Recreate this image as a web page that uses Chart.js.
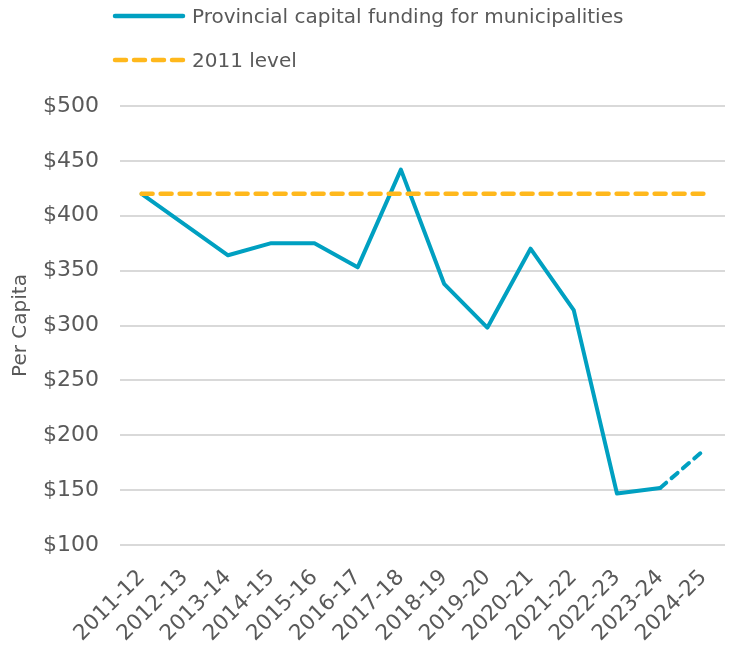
<!DOCTYPE html>
<html>
<head>
<meta charset="utf-8">
<script src="https://cdn.jsdelivr.net/npm/chart.js@4"></script>
<style>
    html, body { margin: 0; padding: 0; background: #fff; }
    #wrap { position: relative; width: 731px; height: 645px; }
    #legend { position: absolute; left: 112px; top: 0; font-family: "DejaVu Sans", sans-serif; font-size: 20px; color: #595959; }
    .item { position: absolute; left: 0; height: 30px; display: flex; align-items: center; white-space: nowrap; }
    .item svg { margin-right: 6px; }
</style>
</head>
<body>
<div id="wrap">
    <canvas id="grafico" width="731" height="645"></canvas>
    <div id="legend"></div>
</div>
<script>
const years = ['2011-12', '2012-13', '2013-14', '2014-15', '2015-16', '2016-17', '2017-18',
    '2018-19', '2019-20', '2020-21', '2021-22', '2022-23', '2023-24', '2024-25']
const fundingPerCapita = [420, 392, 364, 375, 375, 353, 442, 338, 298, 370, 314, 147, 152, 186]
const level2011 = [420, 420, 420, 420, 420, 420, 420, 420, 420, 420, 420, 420, 420, 420]
const seriesNames = ['Provincial capital funding for municipalities', '2011 level']
const yTicks = { min: 100, max: 500, step: 50 }

const azul = '#00a0c1'
const naranja = '#ffb81c'
const gris = '#595959'

// leyenda en html, dos filas como en el original
const legendDiv = document.getElementById('legend')
const muestras = [
    { texto: seriesNames[0], color: azul, dash: '' , top: 1 },
    { texto: seriesNames[1], color: naranja, dash: '11 8', top: 45 }
]
muestras.forEach(m => {
    const div = document.createElement('div')
    div.className = 'item'
    div.style.top = m.top + 'px'
    div.innerHTML = `<svg width="74" height="10"><line x1="3" y1="5" x2="71" y2="5" stroke="${m.color}" stroke-width="4.5" stroke-linecap="round" stroke-dasharray="${m.dash}"/></svg><span>${m.texto}</span>`
    legendDiv.appendChild(div)
})

Chart.defaults.font.family = '"DejaVu Sans", sans-serif'
Chart.defaults.color = gris

new Chart(document.getElementById('grafico'), {
    type: 'line',
    data: {
        labels: years,
        datasets: [{
            label: seriesNames[0],
            data: fundingPerCapita,
            borderColor: azul,
            borderWidth: 4,
            borderJoinStyle: 'round',
            borderCapStyle: 'round',
            pointRadius: 0,
            tension: 0,
            segment: {
                borderDash: ctx => ctx.p0DataIndex === 12 ? [8, 7] : undefined
            },
            order: 1
        }, {
            label: seriesNames[1],
            data: level2011,
            borderColor: naranja,
            borderWidth: 4.5,
            borderDash: [11, 8],
            borderCapStyle: 'round',
            pointRadius: 0,
            order: 0
        }]
    },
    options: {
        responsive: false,
        animation: false,
        layout: { padding: { top: 106, right: 6, left: 0, bottom: 0 } },
        plugins: {
            legend: { display: false },
            tooltip: { enabled: false }
        },
        scales: {
            x: {
                offset: true,
                grid: { display: false },
                border: { display: false },
                ticks: {
                    autoSkip: false,
                    minRotation: 45,
                    maxRotation: 45,
                    font: { size: 21.5 },
                    color: gris,
                    padding: 12
                },
                afterFit: scale => {
                    scale.height = 100
                    scale.paddingRight = 0
                }
            },
            y: {
                min: yTicks.min,
                max: yTicks.max,
                grid: { color: '#d9d9d9', lineWidth: 2, drawTicks: false },
                border: { display: false },
                ticks: {
                    stepSize: yTicks.step,
                    font: { size: 22 },
                    color: gris,
                    padding: 21,
                    callback: v => '$' + v
                },
                title: {
                    display: true,
                    text: 'Per Capita',
                    font: { size: 20 },
                    color: gris,
                    padding: { top: 9, bottom: 0 }
                },
                afterFit: scale => { scale.width = 120 }
            }
        }
    }
})
</script>
</body>
</html>
